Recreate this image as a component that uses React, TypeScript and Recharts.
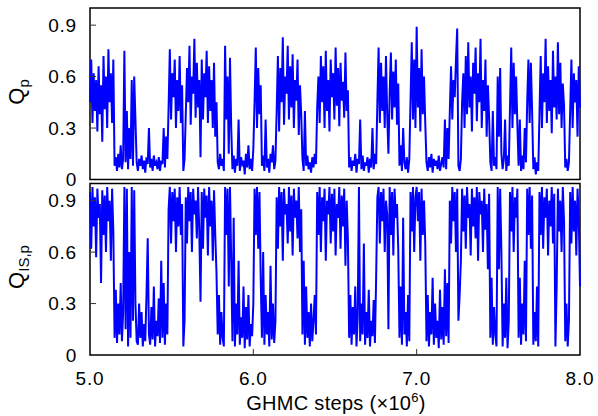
import React from 'react';
import { LineChart, Line, XAxis, YAxis, ReferenceArea } from 'recharts';

const FONT = '"Liberation Sans", Arial, Helvetica, sans-serif';
const BLUE = '#0000ff';

const STEP_START = 5.0;
const STEP_END = 8.0;
const X_TICKS = [5, 6, 7, 8];
const X_INNER_TICKS = [6, 7];
const Y_TICKS = [0, 0.3, 0.6, 0.9];

// Q_p trace (evenly spaced samples)
const QP = [
  0.45, 0.70, 0.33, 0.62, 0.40, 0.58, 0.28, 0.66, 0.38, 0.55, 0.22, 0.72, 0.41, 0.60, 0.30, 0.76, 0.45, 0.62, 0.33, 0.70,
  0.08, 0.13, 0.05, 0.15, 0.07, 0.20, 0.06, 0.12,
  0.75, 0.10, 0.40, 0.06, 0.30, 0.12, 0.58, 0.08, 0.60, 0.35, 0.10,
  0.05, 0.12, 0.08, 0.14, 0.06, 0.11, 0.04, 0.13, 0.09, 0.30, 0.07, 0.12, 0.05, 0.14, 0.08, 0.10, 0.06, 0.13, 0.05, 0.11, 0.09, 0.30, 0.07, 0.25, 0.12,
  0.42, 0.76, 0.35, 0.62, 0.48, 0.70, 0.30, 0.58, 0.40, 0.72, 0.33, 0.55,
  0.05, 0.12,
  0.38, 0.65, 0.45, 0.78, 0.32, 0.60, 0.50, 0.82, 0.36, 0.68, 0.42, 0.58, 0.13, 0.70, 0.35, 0.62, 0.48, 0.75, 0.33, 0.66, 0.40, 0.58, 0.30, 0.68, 0.25, 0.45,
  0.10, 0.06, 0.15, 0.08, 0.12, 0.05,
  0.78, 0.35, 0.60, 0.15, 0.71, 0.30,
  0.06, 0.14, 0.04, 0.12, 0.08, 0.35, 0.05, 0.13, 0.09, 0.11, 0.03, 0.15, 0.07, 0.20, 0.06, 0.12, 0.05, 0.18,
  0.45, 0.77, 0.30, 0.65, 0.38, 0.55,
  0.08, 0.14, 0.05, 0.35, 0.07, 0.12, 0.04, 0.15, 0.10, 0.20, 0.06, 0.11,
  0.40, 0.72, 0.28, 0.65, 0.45, 0.83, 0.32, 0.60, 0.50, 0.78, 0.35, 0.66, 0.42, 0.73, 0.30, 0.58, 0.46, 0.70, 0.26, 0.55, 0.38,
  0.12, 0.05, 0.40, 0.08, 0.14, 0.06, 0.10, 0.04, 0.13, 0.07, 0.15, 0.09,
  0.42, 0.60, 0.33, 0.72, 0.45, 0.66, 0.30, 0.75, 0.40, 0.58, 0.28, 0.70, 0.48, 0.62, 0.35, 0.77, 0.43, 0.65, 0.31, 0.68, 0.46, 0.57, 0.36, 0.74, 0.40, 0.52,
  0.07, 0.13, 0.05, 0.11, 0.08, 0.15, 0.04, 0.12, 0.09, 0.35, 0.06, 0.14, 0.05, 0.10, 0.08, 0.13, 0.04, 0.12, 0.07, 0.30, 0.06, 0.15, 0.09,
  0.45, 0.77, 0.33, 0.68, 0.40, 0.60, 0.30, 0.72, 0.38, 0.15, 0.50, 0.74, 0.35, 0.63, 0.42, 0.70, 0.32, 0.56,
  0.08, 0.20, 0.05, 0.30, 0.10, 0.06, 0.13, 0.04, 0.12,
  0.46, 0.80, 0.35, 0.70, 0.30, 0.89, 0.42, 0.65, 0.28, 0.76, 0.38, 0.60, 0.33,
  0.10, 0.05, 0.13, 0.07, 0.15, 0.04, 0.12, 0.08, 0.11, 0.06, 0.14, 0.05, 0.09, 0.13, 0.07, 0.35, 0.06, 0.30, 0.12,
  0.40, 0.66, 0.35, 0.58, 0.48, 0.70, 0.88, 0.08, 0.05, 0.12, 0.45, 0.62, 0.30, 0.72, 0.38, 0.80, 0.42, 0.60, 0.28, 0.68, 0.50, 0.77, 0.34, 0.62, 0.45, 0.82, 0.30, 0.58, 0.40, 0.70, 0.25, 0.55, 0.36,
  0.10, 0.05, 0.40, 0.08, 0.13, 0.06,
  0.60, 0.25, 0.65, 0.15,
  0.06, 0.12, 0.35, 0.05, 0.14, 0.08,
  0.42, 0.77, 0.30, 0.68, 0.38, 0.60, 0.32,
  0.08, 0.35, 0.05, 0.14, 0.06, 0.30, 0.10,
  0.45, 0.70, 0.33, 0.68, 0.40,
  0.06, 0.13, 0.03, 0.10, 0.05,
  0.38, 0.72, 0.30, 0.62, 0.45, 0.82, 0.33, 0.66, 0.40, 0.58, 0.27, 0.75, 0.42, 0.60, 0.35, 0.80, 0.38, 0.68, 0.30, 0.56, 0.43,
  0.07, 0.12, 0.05, 0.10,
  0.40, 0.70, 0.30, 0.62, 0.45, 0.58, 0.25, 0.66, 0.42,
];

// Q_IS,p trace
const QIS_P = [
  0.95, 0.62, 0.98, 0.75, 0.92, 0.57, 0.97, 0.80, 0.88, 0.42, 0.96, 0.70, 0.93, 0.60, 0.98, 0.78, 0.90, 0.55, 0.97, 0.72,
  0.10, 0.38, 0.07, 0.30, 0.12, 0.42, 0.08, 0.25,
  0.98, 0.15, 0.97, 0.05, 0.60, 0.10, 0.98, 0.20, 0.96, 0.30, 0.08,
  0.06, 0.30, 0.10, 0.25, 0.05, 0.18, 0.08, 0.35, 0.68, 0.12, 0.06, 0.28, 0.09, 0.40, 0.05, 0.20, 0.11, 0.33, 0.07, 0.55, 0.10, 0.42, 0.06, 0.30, 0.12,
  0.85, 0.98, 0.65, 0.95, 0.78, 0.97, 0.60, 0.92, 0.75, 0.98, 0.70, 0.88,
  0.05, 0.20,
  0.92, 0.65, 0.98, 0.78, 0.95, 0.60, 0.97, 0.82, 0.90, 0.68, 0.98, 0.72, 0.31, 0.95, 0.62, 0.97, 0.80, 0.93, 0.58, 0.98, 0.75, 0.90, 0.55, 0.96, 0.70, 0.48,
  0.12, 0.35, 0.06, 0.25, 0.10, 0.05,
  0.98, 0.70, 0.97, 0.40, 0.98, 0.55,
  0.08, 0.80, 0.05, 0.30, 0.12, 0.55, 0.06, 0.22, 0.10, 0.40, 0.04, 0.28, 0.09, 0.35, 0.05, 0.18, 0.11, 0.30,
  0.97, 0.70, 0.98, 0.62, 0.95, 0.45,
  0.10, 0.60, 0.06, 0.35, 0.12, 0.25, 0.05, 0.52, 0.09, 0.30, 0.07, 0.20,
  0.92, 0.62, 0.98, 0.75, 0.95, 0.55, 0.97, 0.82, 0.88, 0.65, 0.98, 0.72, 0.93, 0.58, 0.97, 0.80, 0.90, 0.68, 0.98, 0.60, 0.85,
  0.12, 0.55, 0.06, 0.40, 0.10, 0.25, 0.05, 0.30, 0.08, 0.20, 0.35, 0.12,
  0.95, 0.70, 0.98, 0.60, 0.92, 0.78, 0.97, 0.55, 0.90, 0.82, 0.98, 0.65, 0.94, 0.72, 0.97, 0.58, 0.88, 0.80, 0.98, 0.62, 0.93, 0.75, 0.97, 0.52, 0.90, 0.68,
  0.10, 0.35, 0.06, 0.28, 0.12, 0.40, 0.05, 0.22, 0.98, 0.08, 0.30, 0.12, 0.65, 0.06, 0.25, 0.10, 0.38, 0.05, 0.20, 0.11, 0.32, 0.07, 0.45,
  0.92, 0.98, 0.65, 0.95, 0.78, 0.97, 0.60, 0.90, 0.82, 0.15, 0.98, 0.70, 0.95, 0.58, 0.97, 0.80, 0.88, 0.62,
  0.10, 0.40, 0.06, 0.80, 0.12, 0.25, 0.05, 0.35, 0.08,
  0.95, 0.72, 0.98, 0.60, 0.92, 0.98, 0.78, 0.95, 0.55, 0.97, 0.70, 0.90, 0.65,
  0.08, 0.35, 0.05, 0.25, 0.12, 0.45, 0.06, 0.30, 0.10, 0.20, 0.04, 0.38, 0.09, 0.28, 0.06, 0.50, 0.11, 0.42, 0.07,
  0.90, 0.65, 0.98, 0.78, 0.95, 0.60, 0.97, 0.20, 0.35, 0.55, 0.97, 0.72, 0.93, 0.62, 0.98, 0.80, 0.88, 0.58, 0.97, 0.75, 0.92, 0.68, 0.98, 0.55, 0.95, 0.82, 0.90, 0.60, 0.97, 0.73, 0.88, 0.50, 0.94,
  0.10, 0.45, 0.06, 0.28, 0.12, 0.05,
  0.98, 0.50, 0.97, 0.60,
  0.05, 0.30, 0.10, 0.45, 0.04, 0.20,
  0.95, 0.72, 0.98, 0.60, 0.92, 0.80, 0.97,
  0.10, 0.45, 0.06, 0.30, 0.12, 0.55, 0.08,
  0.97, 0.70, 0.98, 0.62, 0.93,
  0.06, 0.25, 0.08, 0.40, 0.05,
  0.95, 0.70, 0.98, 0.62, 0.92, 0.80, 0.97, 0.58, 0.90, 0.75, 0.98, 0.65, 0.94, 0.05, 0.40, 0.97, 0.72, 0.90, 0.60, 0.98, 0.78,
  0.08, 0.30, 0.05, 0.20,
  0.95, 0.65, 0.98, 0.72, 0.90, 0.58, 0.97, 0.80, 0.40,
];

const toRows = (values: number[]) =>
  values.map((v, i) => ({
    step: STEP_START + ((STEP_END - STEP_START) * i) / (values.length - 1),
    q: v,
  }));

const fmtY = (v: number) => (v === 0 ? '0' : v.toFixed(1));

const TICK_COLOR = '#333';
const TICK_LEN = 6;
const Y_LABEL_GAP = 13;
const X_LABEL_GAP = 30;

const LeftTick = (props: any) => {
  const { x, y, payload } = props;
  return (
    <g>
      <text x={x} y={y} dy="0.36em" textAnchor="end" fontSize={19} fontFamily={FONT} fill="#000" letterSpacing={0.8}>
        {fmtY(payload.value)}
      </text>
      {payload.value > 0 && (
        <line x1={x + Y_LABEL_GAP} x2={x + Y_LABEL_GAP + TICK_LEN} y1={y} y2={y} stroke={TICK_COLOR} />
      )}
    </g>
  );
};

const RightTick = (props: any) => {
  const { x, y, payload } = props;
  if (payload.value === 0) return <g />;
  return <line x1={x - TICK_LEN} x2={x} y1={y} y2={y} stroke={TICK_COLOR} />;
};

const BottomTick = (props: any) => {
  const { x, y, payload, showLabel } = props;
  const inner = payload.value > STEP_START && payload.value < STEP_END;
  const gap = showLabel ? X_LABEL_GAP : 0;
  return (
    <g>
      {showLabel && (
        <text x={x} y={y} textAnchor="middle" fontSize={19} fontFamily={FONT} fill="#000" letterSpacing={0.8}>
          {payload.value.toFixed(1)}
        </text>
      )}
      {inner && <line x1={x} x2={x} y1={y - gap} y2={y - gap - TICK_LEN} stroke={TICK_COLOR} />}
    </g>
  );
};

const TopTick = (props: any) => {
  const { x, y } = props;
  return <line x1={x} x2={x} y1={y} y2={y + TICK_LEN} stroke={TICK_COLOR} />;
};

type PanelProps = {
  values: number[];
  height: number;
  margin: { top: number; right: number; bottom: number; left: number };
  showXLabels: boolean;
};

const Panel = ({ values, height, margin, showXLabels }: PanelProps) => (
  <LineChart width={598} height={height} data={toRows(values)} margin={margin}>
    <XAxis
      xAxisId="b"
      dataKey="step"
      type="number"
      domain={[STEP_START, STEP_END]}
      ticks={showXLabels ? X_TICKS : X_INNER_TICKS}
      height={showXLabels ? 30 : 0}
      axisLine={false}
      tickLine={false}
      tickSize={0}
      tickMargin={showXLabels ? X_LABEL_GAP : 0}
      interval={0}
      tick={(p: any) => <BottomTick {...p} showLabel={showXLabels} />}
    />
    <XAxis
      xAxisId="t"
      orientation="top"
      dataKey="step"
      type="number"
      domain={[STEP_START, STEP_END]}
      ticks={X_INNER_TICKS}
      height={0}
      axisLine={false}
      tickLine={false}
      tickSize={0}
      tickMargin={0}
      interval={0}
      tick={TopTick}
    />
    <YAxis
      yAxisId="l"
      type="number"
      domain={[0, 1]}
      ticks={Y_TICKS}
      width={90}
      axisLine={false}
      tickLine={false}
      tickSize={0}
      tickMargin={Y_LABEL_GAP}
      interval={0}
      tick={LeftTick}
    />
    <YAxis
      yAxisId="r"
      orientation="right"
      type="number"
      domain={[0, 1]}
      ticks={Y_TICKS}
      width={0}
      axisLine={false}
      tickLine={false}
      tickSize={0}
      tickMargin={0}
      interval={0}
      tick={RightTick}
    />
    <Line
      xAxisId="b"
      yAxisId="l"
      type="linear"
      dataKey="q"
      stroke={BLUE}
      strokeWidth={2}
      strokeLinejoin="miter"
      dot={false}
      isAnimationActive={false}
    />
    <ReferenceArea
      xAxisId="b"
      yAxisId="l"
      x1={STEP_START}
      x2={STEP_END}
      y1={0}
      y2={1}
      fill="none"
      stroke="#000"
      strokeWidth={1.5}
      ifOverflow="visible"
    />
  </LineChart>
);

export default function App() {
  return (
    <div style={{ position: 'absolute', left: 0, top: 0, width: 598, height: 416, background: '#fff', fontFamily: FONT }}>
      <div style={{ position: 'absolute', left: 0, top: 182 }}>
        <Panel values={QIS_P} height={234} margin={{ top: 1.5, right: 18, bottom: 31, left: 0 }} showXLabels={true} />
      </div>
      <div style={{ position: 'absolute', left: 0, top: 0 }}>
        <Panel values={QP} height={196} margin={{ top: 8, right: 18, bottom: 16.5, left: 0 }} showXLabels={false} />
      </div>
      <svg width={598} height={416} style={{ position: 'absolute', left: 0, top: 0, pointerEvents: 'none' }}>
        <text transform="translate(24,92) rotate(-90)" textAnchor="middle" fontSize={22} fontFamily={FONT} fill="#000">
          Q<tspan fontSize={15} dy={5}>p</tspan>
        </text>
        <text transform="translate(24,267) rotate(-90)" textAnchor="middle" fontSize={22} fontFamily={FONT} fill="#000">
          Q<tspan fontSize={15} dy={5}>IS,p</tspan>
        </text>
        <text x={336} y={410} textAnchor="middle" fontSize={20} fontFamily={FONT} fill="#000" letterSpacing={0.3}>
          GHMC steps (×10<tspan fontSize={13} dy={-8}>6</tspan><tspan dy={8}>)</tspan>
        </text>
      </svg>
    </div>
  );
}
